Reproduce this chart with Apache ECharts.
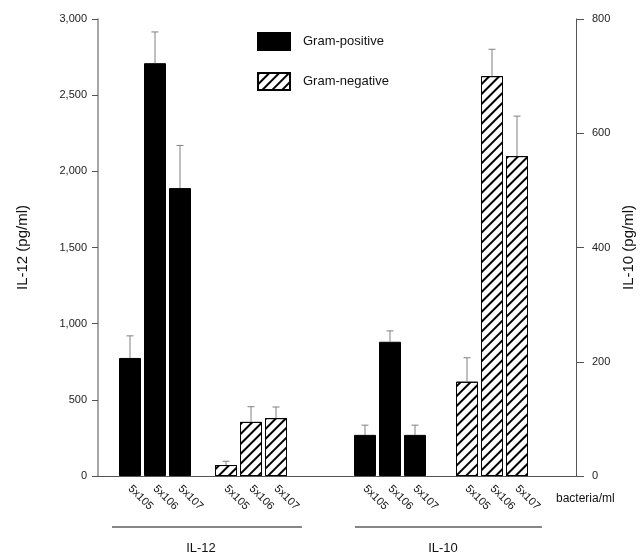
<!DOCTYPE html>
<html>
<head>
<meta charset="utf-8">
<script src="https://cdn.jsdelivr.net/npm/echarts@6/dist/echarts.min.js"></script>
<style>html,body{margin:0;padding:0;background:#fff}#c{width:642px;height:557px}</style>
</head>
<body>
<div id="c"></div>
<script>
// ---- data ----
const categories = ['5x105', '5x106', '5x107'];
const il12Pos = [775, 2710, 1890];
const il12PosErr = [145, 205, 280];
const il12Neg = [72, 355, 380];
const il12NegErr = [25, 100, 73];
const il10Pos = [72, 235, 72];
const il10PosErr = [17, 19, 17];
const il10Neg = [165, 700, 560];
const il10NegErr = [42, 47, 70];
const leftMax = 3000, leftStep = 500;
const rightMax = 800, rightStep = 200;

// ---- layout (slot units along hidden value x-axis) ----
const groupStart = [1.28, 5.12, 10.68, 14.76];
const xMax = 19.12;
const FONT = 'Liberation Sans, Arial, Helvetica, sans-serif';

function barData(start, vals) { return vals.map((v, i) => [start + i, v]); }
function errData(start, vals, errs) { return vals.map((v, i) => [start + i, v, v + errs[i]]); }

const labelPos = [];
const labelText = {};
groupStart.forEach(s => categories.forEach((c, i) => { labelPos.push(+(s + i).toFixed(2)); labelText[(s + i).toFixed(2)] = c; }));

const hatch = {
  symbol: 'rect', symbolSize: 1, color: '#000',
  dashArrayX: [1, 0], dashArrayY: [1.3, 4.6], rotation: -Math.PI / 4
};
const blackStyle = { color: '#000', borderColor: '#000', borderWidth: 1 };
const hatchStyle = { color: '#fff', borderColor: '#000', borderWidth: 1, decal: hatch };

function errRender(params, api) {
  const x = api.value(0);
  const p0 = api.coord([x, api.value(1)]);
  const p1 = api.coord([x, api.value(2)]);
  const st = { stroke: '#808080', lineWidth: 1 };
  return {
    type: 'group', children: [
      { type: 'line', shape: { x1: p0[0], y1: p0[1], x2: p1[0], y2: p1[1] }, style: st },
      { type: 'line', shape: { x1: p1[0] - 3.5, y1: p1[1], x2: p1[0] + 3.5, y2: p1[1] }, style: st }
    ]
  };
}

function bar(name, start, vals, yIdx, style) {
  return { type: 'bar', name, xAxisIndex: 0, yAxisIndex: yIdx, barWidth: 22, barGap: '-100%',
    data: barData(start, vals), itemStyle: style, emphasis: { disabled: true }, animation: false };
}
function err(start, vals, errs, yIdx) {
  return { type: 'custom', name: 'err', xAxisIndex: 0, yAxisIndex: yIdx, renderItem: errRender,
    encode: { x: 0, y: [1, 2] }, data: errData(start, vals, errs), z: 3, animation: false, silent: true };
}

const chart = echarts.init(document.getElementById('c'), null, { renderer: 'canvas' });
chart.setOption({
  backgroundColor: '#fff',
  animation: false,
  textStyle: { fontFamily: FONT },
  grid: { left: 98, right: 66, top: 19, bottom: 81, containLabel: false, outerBoundsMode: 'none' },
  legend: {
    data: ['Gram-positive', 'Gram-negative'], orient: 'vertical', left: 252, top: 27,
    itemWidth: 32, itemHeight: 17, itemGap: 21, icon: 'rect',
    textStyle: { fontSize: 13, color: '#111', fontFamily: FONT, padding: [0, 0, 0, 8] },
    selectedMode: false
  },
  xAxis: {
    type: 'value', min: 0, max: xMax, splitLine: { show: false },
    axisLine: { show: true, lineStyle: { color: '#555', width: 1 } },
    axisTick: { show: false },
    axisLabel: {
      customValues: labelPos, rotate: -45, margin: 11, fontSize: 11, color: '#111', fontFamily: FONT,
      formatter: v => labelText[(+v).toFixed(2)] || ''
    }
  },
  yAxis: [
    { type: 'value', position: 'left', min: 0, max: leftMax, interval: leftStep,
      name: 'IL-12 (pg/ml)', nameLocation: 'middle', nameGap: 68, nameRotate: 90,
      nameTextStyle: { fontSize: 15, color: '#111', fontFamily: FONT },
      splitLine: { show: false },
      axisLine: { show: true, lineStyle: { color: '#888', width: 1.5 } },
      axisTick: { show: true, length: 6, lineStyle: { color: '#555' } },
      axisLabel: { fontSize: 11, color: '#222', margin: 11, fontFamily: FONT,
        formatter: v => v.toLocaleString('en-US') } },
    { type: 'value', position: 'right', min: 0, max: rightMax, interval: rightStep,
      name: 'IL-10 (pg/ml)', nameLocation: 'middle', nameGap: 45, nameRotate: 90,
      nameTextStyle: { fontSize: 15, color: '#111', fontFamily: FONT },
      splitLine: { show: false },
      axisLine: { show: true, lineStyle: { color: '#555', width: 1 } },
      axisTick: { show: true, length: 8, lineStyle: { color: '#555' } },
      axisLabel: { fontSize: 11, color: '#222', margin: 16, fontFamily: FONT } }
  ],
  series: [
    bar('Gram-positive', groupStart[0], il12Pos, 0, blackStyle),
    bar('Gram-negative', groupStart[1], il12Neg, 0, hatchStyle),
    bar('Gram-positive', groupStart[2], il10Pos, 1, blackStyle),
    bar('Gram-negative', groupStart[3], il10Neg, 1, hatchStyle),
    err(groupStart[0], il12Pos, il12PosErr, 0),
    err(groupStart[1], il12Neg, il12NegErr, 0),
    err(groupStart[2], il10Pos, il10PosErr, 1),
    err(groupStart[3], il10Neg, il10NegErr, 1)
  ],
  graphic: [
    { type: 'text', x: 556, y: 499, style: { text: 'bacteria/ml', fontSize: 12, fontFamily: FONT, fill: '#111', textVerticalAlign: 'middle' } },
    { type: 'line', shape: { x1: 112, y1: 527, x2: 302, y2: 527 }, style: { stroke: '#111', lineWidth: 1.2 } },
    { type: 'line', shape: { x1: 355, y1: 527, x2: 542, y2: 527 }, style: { stroke: '#111', lineWidth: 1.2 } },
    { type: 'text', x: 201, y: 548, style: { text: 'IL-12', fontSize: 13, fontFamily: FONT, fill: '#111', textAlign: 'center', textVerticalAlign: 'middle' } },
    { type: 'text', x: 443, y: 548, style: { text: 'IL-10', fontSize: 13, fontFamily: FONT, fill: '#111', textAlign: 'center', textVerticalAlign: 'middle' } }
  ]
});
</script>
</body>
</html>
